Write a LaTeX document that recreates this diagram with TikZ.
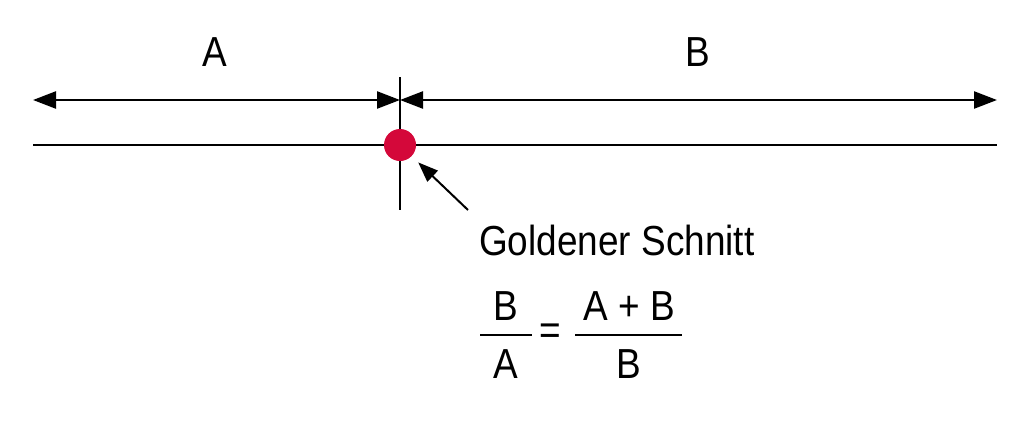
\documentclass[tikz,border=0pt]{standalone}
\usepackage{fontspec}
\setmainfont[FakeStretch=0.88]{Liberation Sans}
\usetikzlibrary{arrows.meta}
\definecolor{goldred}{RGB}{212,8,58}

\begin{document}
\begin{tikzpicture}[x=1pt, y=-1pt, font=\fontsize{42}{48}\selectfont,
  dim/.style={{Triangle[length=23pt,width=17pt]}-{Triangle[length=23pt,width=17pt]}, line width=2.4pt},
  ln/.style={line width=2.6pt}, arr/.style={-{Triangle[length=20pt,width=15pt]}, line width=2pt, shorten >=9pt},
  dot/.style={circle, fill=goldred, minimum size=32pt, inner sep=0pt},
  txt/.style={anchor=base, inner sep=0pt}]
\useasboundingbox (0,0) rectangle (1030,434);
\coordinate (lft) at (33,100); \coordinate (cut) at (400,100); \coordinate (rgt) at (997,100);
\coordinate (base0) at (33,145); \coordinate (base1) at (997,145);
\coordinate (vtop) at (400,77); \coordinate (vbot) at (400,210);
\coordinate (ptail) at (468,210);
\draw[ln] (base0) -- (base1);
\draw[line width=2pt] (vtop) -- (vbot);
\draw[dim] (lft) -- (cut);
\draw[dim] (cut) -- (rgt);
\node[dot] (gs) at (400,145) {};
\draw[arr] (ptail) -- (gs);
\node (labA) at (215,52) {A};
\node (labB) at (698,52) {B};
\node[anchor=base west, inner sep=0pt] (title) at (479,255) {Goldener Schnitt};
% B/A = (A+B)/B
\node[txt] (numl) at (506,320) {B};
\node[txt] (denl) at (506,378) {A};
\node (eq) at (550,334) {=};
\node[txt] (numr) at (629,320) {A + B};
\node[txt] (denr) at (629,378) {B};
\draw[line width=2pt] (480,335) -- (532,335);
\draw[line width=2pt] (575,335) -- (682,335);
\end{tikzpicture}
\end{document}
